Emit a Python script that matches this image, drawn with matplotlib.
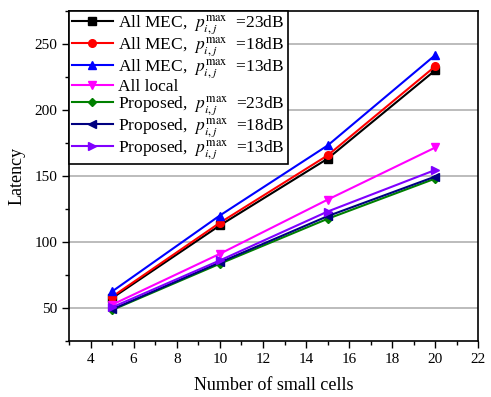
import matplotlib
matplotlib.use("Agg")
import matplotlib.pyplot as plt
from matplotlib.ticker import MultipleLocator

plt.rcParams['font.family'] = 'Liberation Serif'
plt.rcParams['mathtext.fontset'] = 'stix'

cells = [5, 10, 15, 20]
mec_23 = [57.5, 112.5, 163, 230]
mec_18 = [58.5, 114.5, 165.5, 233]
mec_13 = [62.5, 120, 173, 241.5]
local = [52.5, 91, 132, 171.5]
prop_23 = [48.5, 83.5, 117.5, 148]
prop_18 = [49, 84.5, 119.5, 149.5]
prop_13 = [50.5, 86, 123, 154.5]

p = r'$p_{i,j}^{\mathrm{max}}$'
series = [
    (mec_23, 'black', 's', 'All MEC,  ' + p + '  =23dB'),
    (mec_18, 'red', 'o', 'All MEC,  ' + p + '  =18dB'),
    (mec_13, 'blue', '^', 'All MEC,  ' + p + '  =13dB'),
    (local, 'magenta', 'v', 'All local'),
    (prop_23, 'green', 'D', 'Proposed,  ' + p + '  =23dB'),
    (prop_18, 'navy', '<', 'Proposed,  ' + p + '  =18dB'),
    (prop_13, '#8000ff', '>', 'Proposed,  ' + p + '  =13dB'),
]

fig = plt.figure(figsize=(4.91, 3.97), dpi=100)
ax = fig.add_axes([0.1405, 0.141, 0.834, 0.832])

for ys, c, m, lab in series:
    ms = 4.5 if m == 'D' else 5.5
    ax.plot(cells, ys, color=c, marker=m, markersize=ms, linewidth=1.5, label=lab)

ax.set_xlim(3, 22)
ax.set_ylim(25, 275)
ax.xaxis.set_major_locator(MultipleLocator(2))
ax.xaxis.set_minor_locator(MultipleLocator(1))
ax.yaxis.set_major_locator(MultipleLocator(50))
ax.yaxis.set_minor_locator(MultipleLocator(25))
ax.set_xticks(range(4, 23, 2))
ax.tick_params(direction='out', labelsize=11, length=5, width=1)
ax.tick_params(which='minor', direction='out', length=3, width=1)
ax.yaxis.grid(True, color='#b0b0b0', linewidth=1.2)
ax.set_axisbelow(True)
for s in ax.spines.values():
    s.set_linewidth(1.2)

ax.set_xlabel('Number of small cells', fontsize=13, labelpad=8)
ax.set_ylabel('Latency', fontsize=13, labelpad=6)

leg = ax.legend(loc='upper left', fontsize=12.5, frameon=True, fancybox=False,
                edgecolor='black', framealpha=1, borderaxespad=0,
                handlelength=2.4, labelspacing=-0.05, borderpad=0.15,
                handletextpad=0.3)
leg.get_frame().set_linewidth(1.2)

fig.savefig('out.png', dpi=100)
